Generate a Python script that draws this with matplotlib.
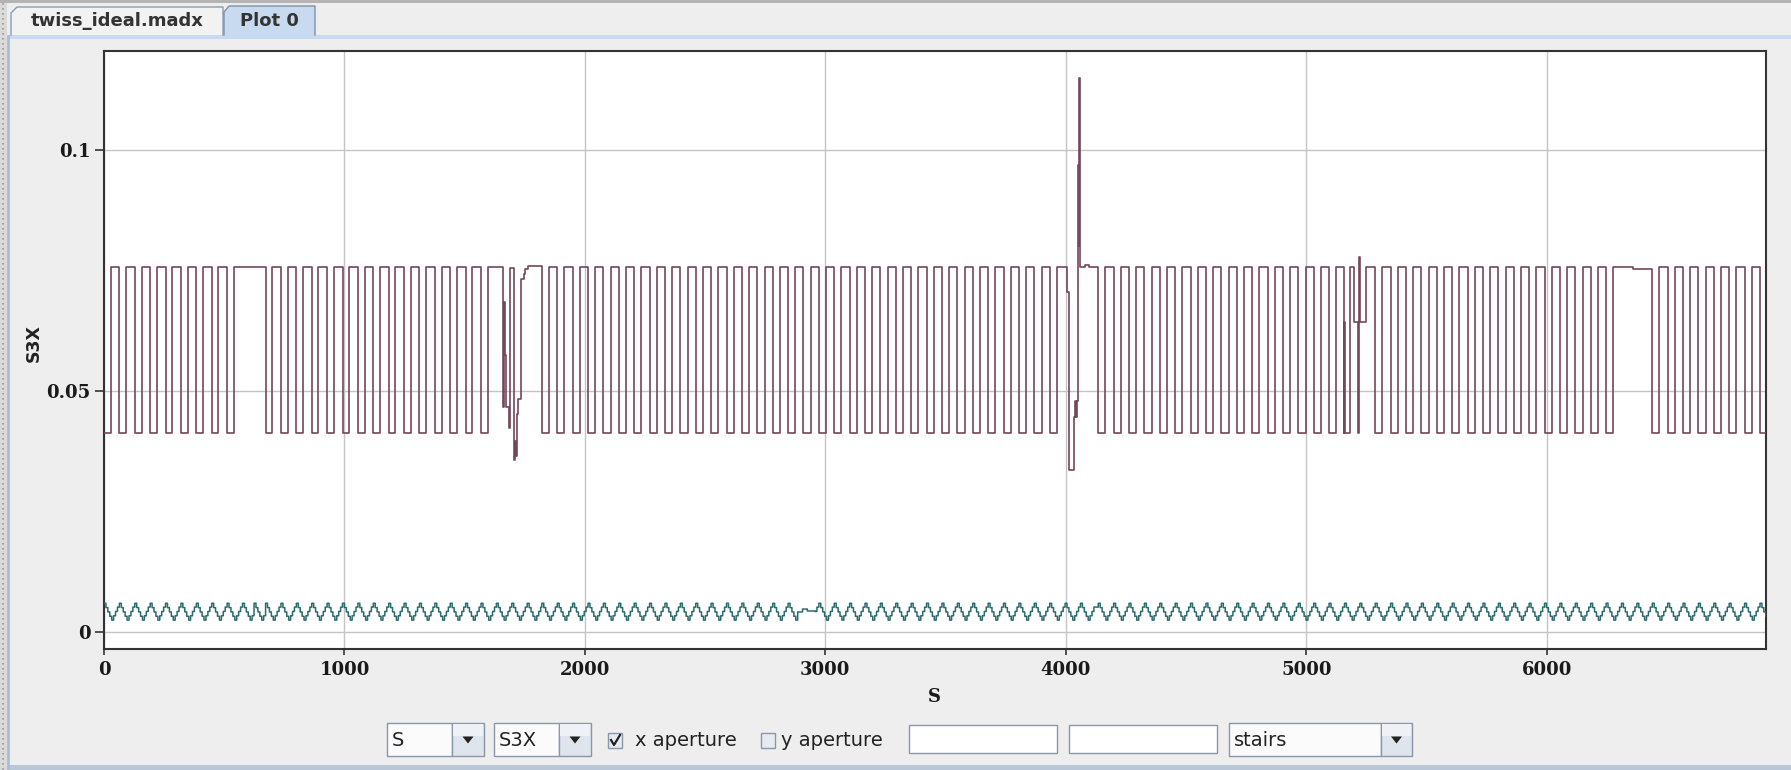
import matplotlib
matplotlib.use('Agg')
import matplotlib.pyplot as plt
from matplotlib.patches import Rectangle, Polygon
from matplotlib.lines import Line2D

W, H = 1791, 770

# ------------------------------------------------------------------ data
HIGH = 0.0757
LOW = 0.0413
S_END = 6912.0
CELL = 64.0

# regular stretches of the S3X square wave (positions in m)
seg_first_fall = [0, 672, 1821, 4135, 5287, 6439]
seg_n_falls = [9, 15, 34, 16, 16, 8]
seg_n_rises = [9, 15, 34, 16, 16, 7]
seg_low_len = [28, 28, 30, 30, 30, 30]

# irregular regions (stairs: value holds from s onwards)
mess1_s = [1661, 1664, 1666, 1668, 1670, 1684, 1690, 1705, 1708, 1712, 1716, 1722, 1736, 1745, 1752, 1765]
mess1_v = [0.0467, 0.0685, 0.0600, 0.0575, 0.0467, 0.0422, 0.0755, 0.0357, 0.0395, 0.0365, 0.0453, 0.0484, 0.0733, 0.0742, 0.0754, 0.0759]
mess2_s = [4007, 4014, 4035, 4038, 4042, 4046, 4049, 4052, 4054, 4056, 4058, 4080, 4098]
mess2_v = [0.0705, 0.0335, 0.0445, 0.0480, 0.0445, 0.0480, 0.0620, 0.0970, 0.0800, 0.1150, 0.0757, 0.0762, 0.0757]
mess3_s = [5155, 5158, 5160, 5183, 5197, 5217, 5220, 5223, 5248]
mess3_v = [LOW, 0.0643, LOW, HIGH, 0.0643, LOW, 0.0778, 0.0643, HIGH]
gap2_s = [6360]
gap2_v = [0.0753]

# second series: one cell of the zig-zag, extra cell starts, and a flat stretch
teal_off = [0, 8, 16, 24, 32, 40, 48, 56]
teal_val = [0.0059, 0.0050, 0.0041, 0.0032, 0.0024, 0.0033, 0.0042, 0.0051]
teal_extra_cells = [576, 624, 1632, 1696, 1760, 3997, 4061, 5159, 5223, 6311, 6375]
teal_flat_s = [2885, 2905, 2925]
teal_flat_v = [0.0041, 0.0047, 0.0043]
teal_flat_end = 2950

xticks = [0, 1000, 2000, 3000, 4000, 5000, 6000]
xticklabels = ['0', '1000', '2000', '3000', '4000', '5000', '6000']
yticks = [0, 0.05, 0.1]
yticklabels = ['0', '0.05', '0.1']

# ------------------------------------------------------------------ build series
events = []
teal_cells = list(teal_extra_cells)
for f0, nf, nr, ll in zip(seg_first_fall, seg_n_falls, seg_n_rises, seg_low_len):
    for k in range(nf):
        events.append((f0 + CELL * k, LOW))
        teal_cells.append(f0 + CELL * k)
    for k in range(nr):
        events.append((f0 + CELL * k + ll, HIGH))
for ss, vv in ((mess1_s, mess1_v), (mess2_s, mess2_v), (mess3_s, mess3_v), (gap2_s, gap2_v)):
    events += list(zip(ss, vv))
events.sort(key=lambda e: e[0])
xs = [e[0] for e in events] + [S_END]
ys = [e[1] for e in events] + [events[-1][1]]

teal_cells.sort()
teal_pts = []
for i, c in enumerate(teal_cells):
    nxt = teal_cells[i + 1] if i + 1 < len(teal_cells) else S_END
    for o, v in zip(teal_off, teal_val):
        if c + o < nxt:
            teal_pts.append((c + o, v))
teal_pts = [p for p in teal_pts if not (teal_flat_s[0] <= p[0] < teal_flat_end)]
teal_pts += list(zip(teal_flat_s, teal_flat_v))
teal_pts.sort(key=lambda p: p[0])
tx = [p[0] for p in teal_pts] + [S_END]
ty = [p[1] for p in teal_pts] + [teal_pts[-1][1]]

# ------------------------------------------------------------------ figure
fig = plt.figure(figsize=(W / 100, H / 100), dpi=100, facecolor='#eeeeee')


def R(x0, y0, x1, y1, fc, ec='none', lw=1.0, z=0):
    fig.patches.append(Rectangle((x0 / W, 1 - y1 / H), (x1 - x0) / W, (y1 - y0) / H,
                                 transform=fig.transFigure, facecolor=fc, edgecolor=ec,
                                 linewidth=lw, zorder=z))


def L(pts, color, lw=1.0, z=1, **kw):
    fig.lines.append(Line2D([p[0] / W for p in pts], [1 - p[1] / H for p in pts],
                            transform=fig.transFigure, color=color, linewidth=lw, zorder=z, **kw))


def P(pts, fc, z=2):
    fig.patches.append(Polygon([(p[0] / W, 1 - p[1] / H) for p in pts], closed=True,
                               transform=fig.transFigure, facecolor=fc, edgecolor='none', zorder=z))


def T(x, y, s, **kw):
    fig.text(x / W, 1 - y / H, s, **kw)


# window chrome
R(0, 0, W, 3, '#b4b4b4')
R(0, 3, 7, H, '#dadada')
L([(3, 3), (3, H)], '#9a9a9a', lw=1.2, linestyle=(0, (1, 2)))
L([(8, 36), (8, H)], '#a9bcd6', lw=2.0)
R(9, 35, W, 39, '#c8daf0')
R(9, 765, W, H, '#b9c6d8')

# tabs
P([(11, 35), (11, 13), (17, 7), (223, 7), (223, 35)], '#f2f2f2', z=1)
L([(11, 35), (11, 13), (17, 7), (223, 7), (223, 35)], '#8c9cb4', lw=1.0, z=2)
P([(224, 35), (224, 12), (229, 6), (315, 6), (315, 35)], '#c8daf0', z=1)
L([(224, 35), (224, 12), (229, 6), (315, 6), (315, 35)], '#7f90aa', lw=1.0, z=2)
T(117, 21, 'twiss_ideal.madx', ha='center', va='center', fontsize=13,
  fontweight='bold', family='DejaVu Sans', color='#333333')
T(269, 21, 'Plot 0', ha='center', va='center', fontsize=13,
  fontweight='bold', family='DejaVu Sans', color='#333333')

# ------------------------------------------------------------------ plot
ax = fig.add_axes([104 / W, 1 - 649 / H, (1766 - 104) / W, (649 - 51) / H])
ax.set_facecolor('white')
ax.step(xs, ys, where='post', color='#74475a', linewidth=1.2, zorder=3)
ax.step(tx, ty, where='post', color='#2a6b6d', linewidth=1.1, zorder=3)
ax.set_xlim(0, S_END)
ax.set_ylim(-0.0036, 0.1206)
ax.set_xticks(xticks)
ax.set_xticklabels(xticklabels)
ax.set_yticks(yticks)
ax.set_yticklabels(yticklabels)
ax.grid(True, color='#c4c4c4', linewidth=1.0, zorder=0)
ax.set_axisbelow(True)
for sp in ax.spines.values():
    sp.set_color('#333333')
    sp.set_linewidth(1.5)
ax.tick_params(axis='y', direction='out', length=6.5, width=1.2, color='#333333', pad=3)
ax.tick_params(axis='x', direction='out', length=4.3, width=1.2, color='#333333', pad=4)
for lab in ax.get_xticklabels() + ax.get_yticklabels():
    lab.set_family('DejaVu Serif')
    lab.set_fontweight('bold')
    lab.set_fontsize(13)
    lab.set_color('#1a1a1a')

T(934, 697, 'S', ha='center', va='center', fontsize=13, fontweight='bold',
  family='DejaVu Serif', color='#1a1a1a')
T(34, 343, 'S3X', ha='center', va='center', fontsize=12.5, fontweight='bold',
  family='DejaVu Sans', color='#222222', rotation=90)

# ------------------------------------------------------------------ controls row
y0, y1 = 723, 756
ymid = (y0 + y1) / 2
ctrl_font = dict(family='DejaVu Sans', fontsize=14, color='#222222', va='center')


def combo(x0, xd, x1, text):
    R(x0, y0, xd, y1, '#fbfbfb', ec='#8b97a8', lw=1.0, z=1)
    R(xd, y0, x1, y1, '#dfe5ec', ec='#8b97a8', lw=1.0, z=1)
    R(xd + 1, y0 + 1, x1 - 1, ymid - 4, '#eef2f6', z=1.5)
    cx = (xd + x1) / 2
    P([(cx - 5.5, ymid - 3), (cx + 5.5, ymid - 3), (cx, ymid + 4)], '#222222', z=3)
    T(x0 + 5, ymid + 0.5, text, **ctrl_font)


combo(387, 452, 484, 'S')
combo(494, 559, 591, 'S3X')
combo(1229, 1381, 1412, 'stairs')

# check boxes
R(608, 733, 622, 748, '#e6ebf1', ec='#8b97a8', lw=1.0, z=1)
L([(611, 740), (614, 745), (620, 735)], '#222222', lw=1.6, z=3)
T(635, ymid + 0.5, 'x aperture', **ctrl_font)
R(761, 733, 775, 748, '#e6ebf1', ec='#8b97a8', lw=1.0, z=1)
T(781, ymid + 0.5, 'y aperture', **ctrl_font)

# text fields
R(909, 725, 1057, 753, 'white', ec='#8b97a8', lw=1.0, z=1)
R(1069, 725, 1217, 753, 'white', ec='#8b97a8', lw=1.0, z=1)

fig.savefig('out.png', dpi=100, facecolor=fig.get_facecolor())
